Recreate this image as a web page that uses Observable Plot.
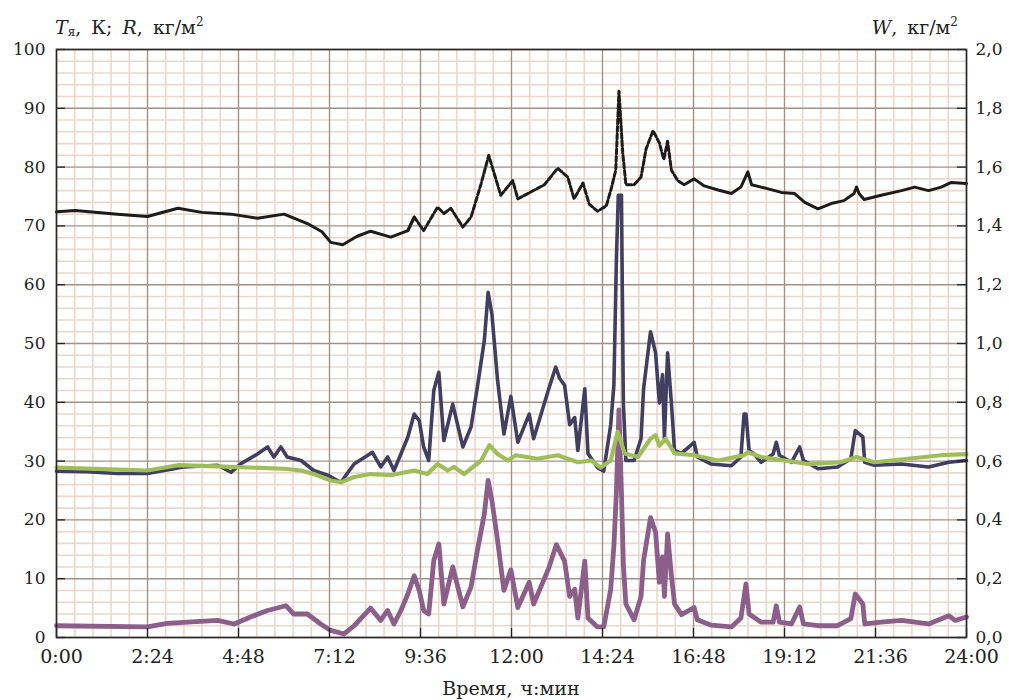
<!DOCTYPE html>
<html><head><meta charset="utf-8">
<script src="https://cdn.jsdelivr.net/npm/d3@7"></script>
<script src="https://cdn.jsdelivr.net/npm/@observablehq/plot@0.6"></script>
<style>
body{margin:0;background:#fff;}
#wrap{position:relative;width:1009px;height:700px;font-family:"DejaVu Serif",serif;color:#222;}
.lbl{position:absolute;font-size:19px;white-space:nowrap;line-height:1;word-spacing:4px;}
.lbl sub{font-size:12px;vertical-align:-2px;}
.lbl sup{font-size:12px;vertical-align:8px;}
</style></head><body><div id="wrap"></div>
<script>
// ---- data (time in minutes since 0:00) ----
const tempTime = [0,30,96,144,192,230,276,318,360,397,420,434,453,475,497,529,556,566,581,603,613,624,643,656,672,684,703,722,730,751,772,793,809,819,833,843,856,870,878,885,890,896,901,914,925,933,944,954,961,967,973,983,993,1009,1025,1047,1068,1083,1094,1100,1115,1147,1168,1184,1205,1226,1246,1262,1266,1270,1278,1305,1337,1358,1380,1400,1416,1440];
const tempVal  = [72.4,72.6,72.0,71.6,73.0,72.3,72.0,71.3,72.0,70.4,69.0,67.2,66.8,68.2,69.1,68.1,69.2,71.5,69.2,73.2,72.1,73.0,69.8,71.5,77.2,82.0,75.2,77.7,74.6,75.8,77.0,79.8,78.3,74.6,77.3,73.7,72.5,73.4,76.4,79.5,92.9,82.5,77.0,77.0,78.3,83.1,86.2,84.1,81.3,84.4,79.5,77.7,77.0,78.0,76.8,76.1,75.5,76.6,79.2,77.0,76.6,75.7,75.5,74.0,72.9,73.8,74.3,75.5,76.6,75.5,74.5,75.2,76.0,76.6,76.0,76.6,77.4,77.2];

const r1Time = [0,48,96,144,201,255,276,291,318,334,344,355,365,387,407,429,450,471,500,513,524,534,545,556,566,574,581,589,597,605,613,627,643,656,666,677,683,689,698,708,719,730,748,755,779,790,796,804,812,820,825,836,841,856,866,877,882,886,889,894,897,901,914,925,929,940,948,954,959,962,967,973,978,989,1009,1014,1036,1068,1083,1088,1091,1096,1104,1115,1134,1139,1144,1163,1176,1182,1205,1236,1257,1264,1276,1279,1294,1337,1380,1412,1440];
const r1Val  = [28.3,28.2,27.9,27.9,29.0,29.3,28.1,29.5,31.2,32.4,30.7,32.4,30.7,30.1,28.4,27.6,26.4,29.5,31.5,29.0,30.7,28.4,31.2,34.1,38.0,36.9,32.4,30.1,42.0,45.1,33.5,39.7,32.4,35.8,42.6,50.5,58.7,55.0,43.7,34.6,41.0,33.2,38.0,33.8,42.3,46.0,44.1,42.9,36.2,37.4,31.8,42.3,31.3,28.9,28.3,36.2,42.9,64.3,75.2,75.2,39.9,30.1,30.1,33.8,42.3,52.0,48.4,39.9,44.7,33.8,48.4,39.9,31.8,31.3,33.2,30.7,29.5,29.2,30.7,38.0,38.0,31.8,31.2,29.8,31.2,33.2,31.0,29.8,32.4,30.1,28.7,29.0,30.4,35.2,34.1,29.8,29.3,29.5,29.0,29.8,30.1];

const r2Time = [0,144,192,255,360,387,407,434,450,471,497,529,566,587,603,619,629,645,672,685,698,714,727,761,793,825,846,861,877,888,899,920,940,948,954,964,978,1009,1047,1088,1094,1115,1152,1189,1241,1266,1294,1347,1400,1440];
const r2Val  = [28.9,28.4,29.3,29.1,28.7,28.4,27.8,26.7,26.4,27.3,27.8,27.6,28.4,27.8,29.5,28.4,29.0,27.8,30.1,32.7,31.2,30.1,31.0,30.4,31.0,29.8,30.1,28.9,30.1,35.0,31.3,30.7,33.8,34.4,32.6,33.8,31.3,31.0,30.1,31.0,31.5,30.7,30.1,29.5,29.8,30.7,29.8,30.4,31.0,31.2];

// W, kg/m^2 (right axis)
const wTime = [0,144,175,255,281,307,334,363,375,397,418,434,455,471,497,513,524,534,545,556,566,574,581,589,597,605,613,627,643,656,666,677,683,689,698,708,719,730,748,755,779,791,804,812,820,825,836,841,856,866,877,882,886,890,894,897,901,914,925,929,940,948,954,959,962,967,973,978,989,1009,1014,1036,1068,1083,1091,1096,1115,1134,1139,1144,1163,1176,1182,1205,1236,1257,1264,1276,1279,1305,1337,1380,1412,1422,1440];
const wVal  = [0.040,0.036,0.048,0.058,0.046,0.070,0.092,0.108,0.080,0.080,0.046,0.024,0.012,0.040,0.100,0.058,0.092,0.046,0.092,0.148,0.210,0.160,0.092,0.080,0.262,0.318,0.114,0.240,0.104,0.172,0.296,0.420,0.534,0.466,0.330,0.160,0.230,0.102,0.188,0.114,0.236,0.316,0.260,0.140,0.164,0.066,0.260,0.066,0.036,0.036,0.164,0.310,0.494,0.774,0.494,0.248,0.114,0.060,0.140,0.262,0.408,0.358,0.188,0.274,0.140,0.352,0.212,0.114,0.078,0.102,0.060,0.042,0.036,0.066,0.182,0.080,0.052,0.052,0.108,0.052,0.046,0.104,0.046,0.040,0.040,0.064,0.148,0.114,0.046,0.052,0.058,0.046,0.074,0.058,0.070];

// ---- axes ----
const xTickMinutes = [0,144,288,432,576,720,864,1008,1152,1296,1440];
const xTickLabels  = ["0:00","2:24","4:48","7:12","9:36","12:00","14:24","16:48","19:12","21:36","24:00"];
const leftTicks    = [0,10,20,30,40,50,60,70,80,90,100];
const rightTickLabels = ["0,0","0,2","0,4","0,6","0,8","1,0","1,2","1,4","1,6","1,8","2,0"];
const wToLeft = 50; // 2.0 on right axis = 100 on left axis

const mk = (t, v, k) => t.map((d, i) => ({t: d, v: v[i] * k}));
const temp = mk(tempTime, tempVal, 1);
const r1 = mk(r1Time, r1Val, 1);
const r2 = mk(r2Time, r2Val, 1);
const w = mk(wTime, wVal, wToLeft);

const W = 1009, H = 700, mL = 56, mR = 43, mT = 49, mB = 63;
const pw = W - mL - mR, ph = H - mT - mB;
const minorX = d3.range(0, 1440.01, 28.8).filter(d => Math.abs(d % 144) > 1 && Math.abs(d % 144 - 144) > 1);
const minorY = d3.range(0, 100.01, 2).filter(d => d % 10 !== 0);

const tempSolidA = temp.filter(d => d.t <= 566);
const tempDash = temp.filter(d => d.t >= 556 && d.t <= 993);
const tempSolidB = temp.filter(d => d.t >= 993);

const chart = Plot.plot({
  width: W, height: H,
  marginLeft: mL, marginRight: mR, marginTop: mT, marginBottom: mB,
  style: {fontFamily: "DejaVu Serif, serif", color: "#222", background: "#fff"},
  x: {domain: [0, 1440], axis: null},
  y: {domain: [0, 100], axis: null},
  marks: [
    Plot.ruleX(minorX, {x: d => d, stroke: "#ead8cc", strokeWidth: 1.6}),
    Plot.ruleY(minorY, {y: d => d, stroke: "#ead8cc", strokeWidth: 1.6}),
    Plot.ruleX(xTickMinutes, {x: d => d, stroke: "#a39186", strokeWidth: 1.4}),
    Plot.ruleY(leftTicks, {y: d => d, stroke: "#a39186", strokeWidth: 1.4}),
    Plot.line(w, {x: "t", y: "v", stroke: "#8c5e8a", strokeWidth: 4.8}),
    Plot.line(r1, {x: "t", y: "v", stroke: "#403f60", strokeWidth: 3.6}),
    Plot.line(r2, {x: "t", y: "v", stroke: "#9fbe5a", strokeWidth: 4.2}),
    Plot.line(tempSolidA, {x: "t", y: "v", stroke: "#1e1c1a", strokeWidth: 3}),
    Plot.line(tempDash, {x: "t", y: "v", stroke: "#1e1c1a", strokeWidth: 3, strokeDasharray: "5,2.5"}),
    Plot.line(tempSolidB, {x: "t", y: "v", stroke: "#1e1c1a", strokeWidth: 3}),
    Plot.tickY(leftTicks, {y: d => d, stroke: "#222", strokeWidth: 1.3, insetRight: pw - 9}),
    Plot.tickY(leftTicks, {y: d => d, stroke: "#222", strokeWidth: 1.3, insetLeft: pw - 9}),
    Plot.tickX(xTickMinutes, {x: d => d, stroke: "#222", strokeWidth: 1.3, insetTop: ph - 9}),
    Plot.frame({stroke: "#2a2a2a", strokeWidth: 1.6}),
    Plot.axisY(leftTicks, {anchor: "left", label: null, tickSize: 0, tickPadding: 11, fontSize: 17, tickFormat: d => String(d)}),
    Plot.axisY(leftTicks, {anchor: "right", label: null, tickSize: 0, tickPadding: 9, fontSize: 17, tickFormat: d => rightTickLabels[leftTicks.indexOf(d)]}),
    Plot.axisX(xTickMinutes, {anchor: "bottom", label: null, tickSize: 0, tickPadding: 12, fontSize: 19, dx: 5, tickFormat: d => xTickLabels[xTickMinutes.indexOf(d)]})
  ]
});
const wrap = document.getElementById("wrap");
wrap.appendChild(chart);
const add = (html, css) => { const s = document.createElement("div"); s.className = "lbl"; s.innerHTML = html; Object.assign(s.style, css); wrap.appendChild(s); };
add('<i>T</i><sub>я</sub>, К; <i>R</i>, кг/м<sup>2</sup>', {left: "55px", top: "16px"});
add('<i>W</i>, кг/м<sup>2</sup>', {right: "51px", top: "16px"});
add('Время, ч:мин', {left: "0px", width: "1022px", textAlign: "center", top: "679px", wordSpacing: "2px"});
</script></body></html>
